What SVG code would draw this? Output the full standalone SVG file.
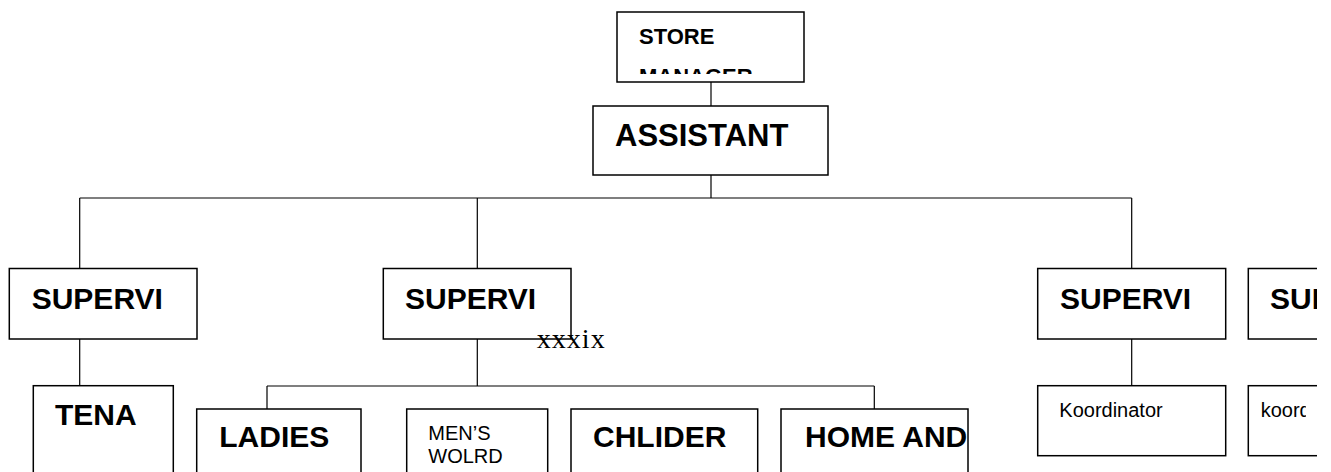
<svg xmlns="http://www.w3.org/2000/svg" width="1331" height="472" viewBox="0 0 1331 472">
<style>
.box{fill:#fff;stroke:#000;stroke-width:1.5}
.ln{fill:none;stroke:#000;stroke-width:1.2}
.b{font-family:"Liberation Sans",Arial,sans-serif;font-weight:bold;fill:#000}
.r{font-family:"Liberation Sans",Arial,sans-serif;font-size:20px;fill:#000}
.s{font-family:"Liberation Serif","Times New Roman",serif;fill:#000}
</style>
<defs>
<clipPath id="cpStore"><rect x="617" y="12" width="187" height="62"/></clipPath>
<clipPath id="cpPage"><rect x="0" y="0" width="1317" height="472"/></clipPath>
<clipPath id="cpHome"><rect x="781" y="409" width="188" height="63"/></clipPath>
<clipPath id="cpK2"><rect x="1248" y="386" width="58" height="70"/></clipPath>
</defs>
<rect x="0" y="0" width="1331" height="472" fill="#fff"/>
<g clip-path="url(#cpPage)">
<g id="connectors">
<path class="ln" d="M711 82V106"/>
<path class="ln" d="M711 175V198"/>
<path class="ln" d="M79.7 198H1131.7"/>
<path class="ln" d="M79.7 198V269M477.3 198V269M1131.7 198V269"/>
<path class="ln" d="M79.7 339V386"/>
<path class="ln" d="M477.3 339V386"/>
<path class="ln" d="M267 386H874.3"/>
<path class="ln" d="M267 386V409M874.3 386V409"/>
<path class="ln" d="M1131.7 339V386"/>
</g>
<g id="store-manager">
<rect class="box" x="617" y="12" width="187" height="70"/>
<g clip-path="url(#cpStore)">
<text class="b" x="639" y="44" font-size="22">STORE</text>
<text class="b" x="639" y="84" font-size="22">MANAGER</text>
</g>
</g>
<g id="assistant">
<rect class="box" x="593" y="106" width="235" height="69"/>
<text class="b" x="615" y="146" font-size="31">ASSISTANT</text>
</g>
<g id="supervisor-1">
<rect class="box" x="9.3" y="268.5" width="187.7" height="70.5"/>
<text class="b" x="31.7" y="309.3" font-size="30">SUPERVI</text>
</g>
<g id="supervisor-2">
<rect class="box" x="383.3" y="268.5" width="187.7" height="70.5"/>
<text class="b" x="405" y="309.3" font-size="30">SUPERVI</text>
</g>
<g id="supervisor-3">
<rect class="box" x="1037.7" y="268.5" width="188" height="70.5"/>
<text class="b" x="1060" y="309.3" font-size="30">SUPERVI</text>
</g>
<g id="supervisor-4">
<rect class="box" x="1248.3" y="268.5" width="188" height="70.5"/>
<text class="b" x="1270" y="309.3" font-size="30">SUPERVI</text>
</g>
<g id="page-number">
<text class="s" x="536.7" y="348.3" font-size="28" textLength="68" lengthAdjust="spacing">xxxix</text>
</g>
<g id="tena">
<rect class="box" x="33.3" y="385.7" width="140" height="100"/>
<text class="b" x="55" y="425" font-size="30">TENA</text>
</g>
<g id="ladies">
<rect class="box" x="196.7" y="409" width="164.3" height="80"/>
<text class="b" x="219.3" y="446.7" font-size="30">LADIES</text>
</g>
<g id="mens-world">
<rect class="box" x="406.7" y="409" width="141" height="80"/>
<text class="r" x="428.3" y="440">MEN’S</text>
<text class="r" x="428.3" y="462.7">WOLRD</text>
</g>
<g id="children">
<rect class="box" x="571" y="409" width="186.7" height="80"/>
<text class="b" x="593" y="447" font-size="30">CHLIDER</text>
</g>
<g id="home-and">
<rect class="box" x="781" y="409" width="187" height="80"/>
<g clip-path="url(#cpHome)"><text class="b" x="805" y="447" font-size="30">HOME AND</text></g>
</g>
<g id="koordinator-1">
<rect class="box" x="1037.7" y="385.7" width="188" height="70"/>
<text class="r" x="1059.3" y="416.7">Koordinator</text>
</g>
<g id="koordinator-2">
<rect class="box" x="1248.3" y="385.7" width="188" height="70"/>
<g clip-path="url(#cpK2)"><text class="r" x="1260.7" y="416.7">koordinator</text></g>
</g>
</g>
</svg>
